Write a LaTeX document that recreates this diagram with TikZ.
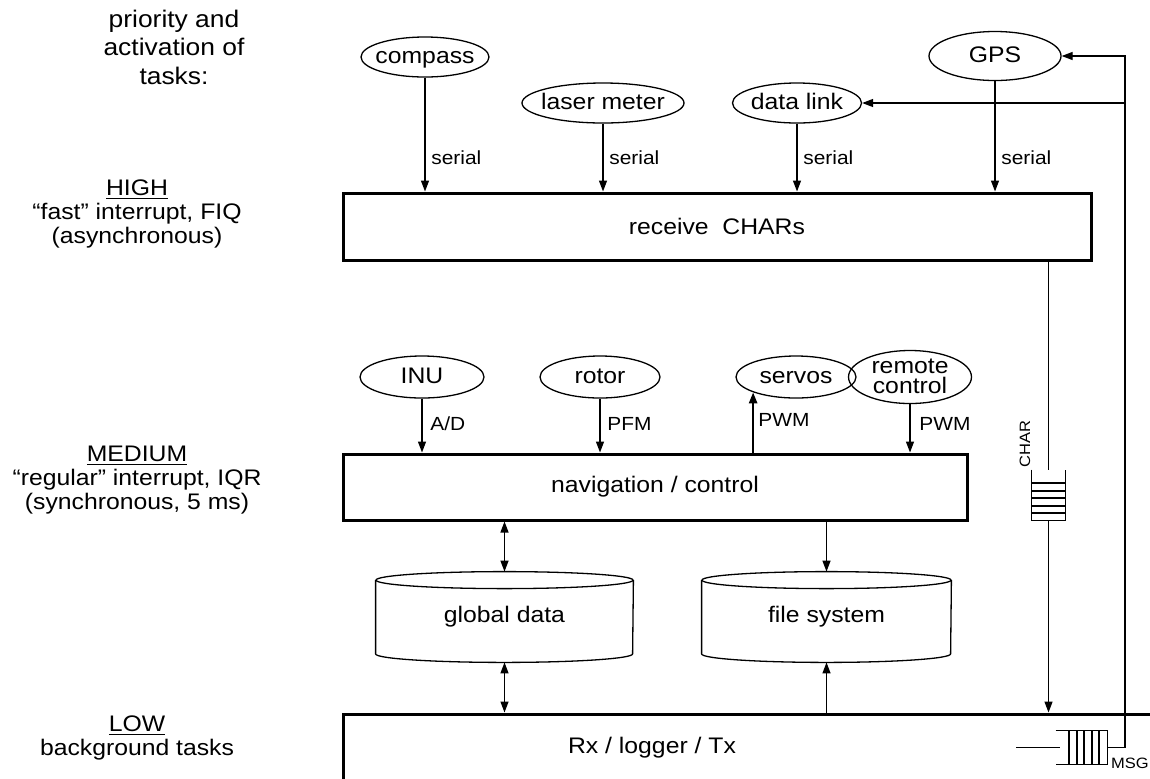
\documentclass[tikz,border=0pt]{standalone}
\usepackage{fontspec}
\setmainfont{Liberation Sans}[FakeStretch=1.1]
\usetikzlibrary{shapes.geometric,arrows.meta,calc}

% font sizes used in the chart
\newcommand\dgmain{\fontsize{11.25}{12}\selectfont}
\newcommand\dgsmall{\fontsize{9.5}{11}\selectfont}
\newcommand\dgtiny{\fontsize{7.5}{9}\selectfont}
\newcommand\dgtitle{\fontsize{12}{14.25}\selectfont}
% text that does not widen its ellipse
\newcommand\dgin[1]{\makebox[0pt]{#1}}

\begin{document}
\begin{tikzpicture}[x=0.5pt,y=-0.5pt,
  wire/.style={line width=0.65pt},
  arr/.style={wire,-{Triangle[length=5.5pt,width=4pt]}},
  darr/.style={wire,{Triangle[length=5.5pt,width=4pt]}-{Triangle[length=5.5pt,width=4pt]}},
  dev/.style={ellipse,draw,line width=0.65pt,inner sep=0pt,font=\dgmain,
    text height=1.6ex,text depth=0.3ex},
  task/.style={rectangle,draw,line width=1.5pt,inner sep=0pt,font=\dgmain},
  store/.style={inner sep=0pt,font=\dgmain},
  lab/.style={font=\dgsmall,anchor=west,inner sep=0pt},
  prio/.style={align=center,font=\dgmain},
]
\path[use as bounding box] (0,0) rectangle (1150,778);
\clip (0,0) rectangle (1150,778);

% priority levels
\node[align=center,font=\dgtitle] (title) at (174,47) {priority and\\activation of\\tasks:};
\node[prio] (high) at (137,214) {\underline{HIGH}\\“fast” interrupt, FIQ\\(asynchronous)};
\node[prio] (medium) at (137,480) {\underline{MEDIUM}\\“regular” interrupt, IQR\\(synchronous, 5 ms)};
\node[prio] (low) at (137,738) {\underline{LOW}\\background tasks};

% serial devices
\node[dev,minimum width=64pt,minimum height=20pt] (compass) at (425,57) {\dgin{compass}};
\node[dev,minimum width=81pt,minimum height=20pt] (laser) at (603,103) {\dgin{laser meter}};
\node[dev,minimum width=64.5pt,minimum height=20pt] (datalink) at (797,103) {\dgin{data link}};
\node[dev,minimum width=66pt,minimum height=24.5pt] (gps) at (995,56) {\dgin{GPS}};

% tasks
\node[task,minimum width=374pt,minimum height=33.5pt] (recv) at (717,226.5) {receive\ \ CHARs};
\node[task,minimum width=312pt,minimum height=33pt] (nav) at (655,487) {navigation / control};
\node[task,minimum width=418.5pt,minimum height=53pt] (bg) at (761.5,767) {};
\node[font=\dgmain] (bgtext) at (652,748) {Rx / logger / Tx};

% sensors and actuators
\node[dev,minimum width=62pt,minimum height=21pt] (inu) at (422,377) {\dgin{INU}};
\node[dev,minimum width=60pt,minimum height=21pt] (rotor) at (600,377) {\dgin{rotor}};
\node[dev,minimum width=60pt,minimum height=21pt] (servos) at (796,377) {\dgin{servos}};
\node[dev,minimum width=61.5pt,minimum height=26.5pt] (remote) at (910,377)
  {\dgin{\begin{tabular}[c]{@{}c@{}}remote\\[-2pt]control\end{tabular}}};

% data stores
\node[store,minimum width=128.5pt,minimum height=45pt] (gd) at (504.5,617) {global data};
\node[store,minimum width=124.5pt,minimum height=45pt] (fs) at (826.5,617) {file system};
\draw[wire] ($(gd.north)+(0,8.5)$) ellipse[x radius=64.25pt,y radius=4.25pt];
\draw[wire] ($(gd.north west)+(0,8.5)$) -- ($(gd.south west)+(0,-8.5)$)
  arc[start angle=180,end angle=360,x radius=64.25pt,y radius=4.25pt] -- ($(gd.north east)+(0,8.5)$);
\draw[wire] ($(fs.north)+(0,8.5)$) ellipse[x radius=62.25pt,y radius=4.25pt];
\draw[wire] ($(fs.north west)+(0,8.5)$) -- ($(fs.south west)+(0,-8.5)$)
  arc[start angle=180,end angle=360,x radius=62.25pt,y radius=4.25pt] -- ($(fs.north east)+(0,8.5)$);

% serial lines
\draw[arr] (compass) -- (compass |- recv.north);
\draw[arr] (laser) -- (laser |- recv.north);
\draw[arr] (datalink) -- (datalink |- recv.north);
\draw[arr] (gps) -- (gps |- recv.north);
\node[lab] (s1) at (431,158) {serial};
\node[lab] (s2) at (609,158) {serial};
\node[lab] (s3) at (803,158) {serial};
\node[lab] (s4) at (1001,158) {serial};

% periphery of the control loop
\draw[arr] (inu) -- (inu |- nav.north);
\draw[arr] (rotor) -- (rotor |- nav.north);
\draw[arr,line width=1.2pt] (nav.north -| servos.south west) -- (servos.south west);
\draw[arr] (remote) -- (remote |- nav.north);
\node[lab] (l1) at (430,424) {A/D};
\node[lab] (l2) at (607,424) {PFM};
\node[lab] (l3) at (758,420) {PWM};
\node[lab] (l4) at (919,424) {PWM};

% data access
\draw[darr] (nav.south -| gd.north) -- (gd.north);
\draw[darr] (gd.south) -- (gd.south |- bg.north);
\draw[arr] (nav.south -| fs.north) -- (fs.north);
\draw[arr] (fs.south |- bg.north) -- (fs.south);

% character queue
\node[inner sep=0pt,minimum width=16.5pt,minimum height=25pt] (charq) at (1048.5,495) {};
\draw[wire] (charq.north west) -- (charq.south west) -- (charq.south east) -- (charq.north east);
\foreach \y in {483,491,498,506,513}
  \draw[wire] (1032,\y) -- (1065,\y);
\draw[wire] (recv.south -| charq.north) -- (charq.north);
\draw[arr] (charq.south) -- (charq.south |- bg.north);
\node[rotate=90,font=\dgtiny] (charlab) at (1025,444) {CHAR};

% message queue
\node[inner sep=0pt,minimum width=25.5pt,minimum height=16.5pt] (msgq) at (1081.5,747.5) {};
\draw[wire] (msgq.north west) -- (msgq.north east) -- (msgq.south east) -- (msgq.south west);
\foreach \x in {1069,1077,1084,1092,1099}
  \draw[wire] (\x,731) -- (\x,764);
\coordinate (msgin) at (1016,747.5);
\draw[wire] (msgin) -- ($(msgq.west)+(4,0)$);
\node[font=\dgtiny] (msglab) at (1130,763) {MSG};
\coordinate (rtop) at (1125,56);
\draw[arr] (msgq.east) -| (rtop) -- (gps.east);
\draw[arr] (datalink.east -| rtop) -- (datalink.east);
\end{tikzpicture}
\end{document}
